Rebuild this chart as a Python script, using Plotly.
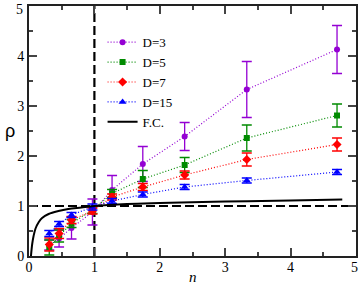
import plotly.graph_objects as go

# ---- data ----
n_vals = [0.31, 0.46, 0.65, 0.97, 1.27, 1.74, 2.38, 3.33, 4.71]

rho_d3 = [0.22, 0.35, 0.56, 0.88, 1.32, 1.84, 2.39, 3.33, 4.13]
err_d3 = [0.10, 0.17, 0.22, 0.26, 0.29, 0.35, 0.28, 0.56, 0.48]

rho_d5 = [0.17, 0.40, 0.65, 0.92, 1.25, 1.54, 1.82, 2.36, 2.81]
err_d5 = [0.15, 0.12, 0.08, 0.07, 0.08, 0.17, 0.15, 0.26, 0.23]

rho_d7 = [0.23, 0.45, 0.72, 0.90, 1.18, 1.38, 1.62, 1.93, 2.23]
err_d7 = [0.13, 0.10, 0.07, 0.06, 0.06, 0.07, 0.08, 0.13, 0.13]

rho_d15 = [0.45, 0.64, 0.82, 0.98, 1.10, 1.23, 1.38, 1.51, 1.68]
err_d15 = [0.06, 0.05, 0.05, 0.06, 0.05, 0.05, 0.05, 0.05, 0.05]

fc_n = [0.03, 0.05, 0.07, 0.10, 0.15, 0.20, 0.30, 0.45, 0.60, 0.80, 1.00, 1.50, 2.00, 3.00, 4.00, 4.79]
fc_rho = [0.00, 0.25, 0.40, 0.55, 0.68, 0.76, 0.84, 0.90, 0.94, 0.97, 1.00, 1.04, 1.06, 1.09, 1.11, 1.13]

tick_vals = [0, 1, 2, 3, 4, 5]
tick_text = ["0", "1", "2", "3", "4", "5"]

series = [
    ("D=3", rho_d3, err_d3, "#9400d3", "circle", 6),
    ("D=5", rho_d5, err_d5, "#008b00", "square", 6),
    ("D=7", rho_d7, err_d7, "#ff0000", "diamond", 7),
    ("D=15", rho_d15, err_d15, "#0000ff", "triangle-up", 7),
]

SERIF = "Liberation Serif"

fig = go.Figure()

# reference dashed lines at n=1 and rho=1
fig.add_shape(type="line", xref="x", yref="y", x0=1, x1=1, y0=0, y1=5,
              line=dict(color="black", width=2.2, dash="9px,4px"), layer="below")
fig.add_shape(type="line", xref="x", yref="y", x0=0, x1=5, y0=1, y1=1,
              line=dict(color="black", width=2.2, dash="9px,4px"), layer="below")

for name, y, e, col, sym, sz in series:
    fig.add_trace(go.Scatter(
        x=n_vals, y=y, name=name, mode="lines+markers",
        line=dict(color=col, width=1.2, dash="1px,2px"),
        marker=dict(color=col, symbol=sym, size=sz),
        error_y=dict(type="data", array=e, visible=True, color=col,
                     thickness=1.3, width=5),
    ))

fig.add_trace(go.Scatter(
    x=fc_n, y=fc_rho, name="F.C.", mode="lines",
    line=dict(color="black", width=2, shape="spline"),
))

axis_common = dict(
    showline=True, linecolor="#222", linewidth=2, mirror="allticks",
    ticks="inside", ticklen=8, tickwidth=1.5, tickcolor="#444",
    tickmode="array", tickvals=tick_vals[:-1], ticktext=tick_text[:-1],
    showgrid=False, zeroline=False,
    automargin=False, ticklabeloverflow="allow",
    tickfont=dict(family=SERIF, size=14, color="black"),
    minor=dict(ticks="inside", ticklen=4, tickwidth=1.5, tickcolor="#444",
               tickmode="linear", tick0=0, dtick=0.5, showgrid=False),
)

fig.update_xaxes(range=[0, 5], ticklabelstandoff=-3, **axis_common)
fig.update_yaxes(range=[0, 5], **axis_common)

# end-of-axis "5" labels, anchored so their boxes stay inside the page
fig.add_annotation(text=tick_text[-1], xref="paper", yref="paper", x=1.0, y=-0.047,
                   showarrow=False, xanchor="right", yanchor="middle", xshift=4,
                   font=dict(family=SERIF, size=14, color="black"))
fig.add_annotation(text=tick_text[-1], xref="paper", yref="paper", x=-0.013, y=1.0,
                   showarrow=False, xanchor="right", yanchor="top", yshift=6,
                   font=dict(family=SERIF, size=14, color="black"))

fig.add_annotation(text="ρ", xref="paper", yref="paper", x=-0.058, y=0.5,
                   showarrow=False, xanchor="center", yanchor="middle",
                   font=dict(family="Liberation Sans", size=18, color="black"))
fig.add_annotation(text="<i>n</i>", xref="paper", yref="paper", x=0.5, y=-0.082,
                   showarrow=False, xanchor="center", yanchor="middle",
                   font=dict(family=SERIF, size=15, color="black"))

fig.update_layout(
    width=360, height=285,
    margin=dict(l=29, r=4, t=6, b=29),
    paper_bgcolor="white", plot_bgcolor="white",
    showlegend=True,
    legend=dict(x=0.225, y=0.915, xanchor="left", yanchor="top",
                bgcolor="rgba(0,0,0,0)", itemwidth=30,
                font=dict(family=SERIF, size=13, color="black"),
                tracegroupgap=0),
)

fig.write_html("out.html", post_script="document.body.style.margin='0';",
               config={"displayModeBar": False})
